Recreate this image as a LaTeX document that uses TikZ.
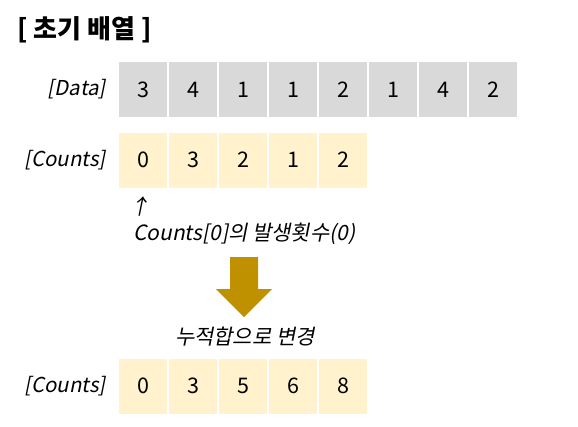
\documentclass[tikz,border=0pt]{standalone}
\usepackage{fontspec}
\setmainfont{Noto Sans CJK KR}
\newfontfamily\slantfont{Noto Sans CJK KR}[FakeSlant=0.2]
\usetikzlibrary{positioning}
\definecolor{datagray}{HTML}{D9D9D9}
\definecolor{cntyellow}{HTML}{FFF2CC}
\definecolor{arrowgold}{HTML}{BF9000}
\tikzset{
  every picture/.style={line join=round, line cap=round},
  cell/.style={minimum width=48pt, minimum height=55pt, inner sep=0pt, font=\fontsize{21.5}{21.5}\selectfont},
  datacell/.style={cell, fill=datagray},
  cntcell/.style={cell, fill=cntyellow},
  rowlabel/.style={anchor=east, inner sep=0pt, font=\slantfont\fontsize{20.5}{20.5}\selectfont},
  note/.style={inner sep=0pt, font=\slantfont\fontsize{21}{21}\selectfont},
}

\begin{document}
\begin{tikzpicture}[x=1pt,y=-1pt]
\useasboundingbox (0,0) rectangle (578,426);
\node[anchor=west,inner sep=0pt,font=\bfseries\fontsize{26}{26}\selectfont] (title) at (17,30) {[ 초기 배열 ]};
% data row
\node[rowlabel] (datalab) at (106,89) {[Data]};
\foreach \v [count=\i] in {3,4,1,1,2,1,4,2}
  \node[datacell] (d\i) at ({143+50*(\i-1)},89.5) {\v};
% counts row
\node[rowlabel] (cntlab) at (106,160) {[Counts]};
\foreach \v [count=\i] in {0,3,2,1,2}
  \node[cntcell] (c\i) at ({143+50*(\i-1)},160) {\v};
\node[note] (up) at (140,206) {↑};
\node[note,anchor=west] (occur) at (133,234) {Counts[0]의 발생횟수(0)};
% big arrow
\fill[arrowgold] (230,257) -- (258,257) -- (258,289) -- (272,289) -- (244,317) -- (216,289) -- (230,289) -- cycle;
\node[note] (change) at (245,337) {누적합으로 변경};
% cumulative row
\node[rowlabel] (sumlab) at (106,386) {[Counts]};
\foreach \v [count=\i] in {0,3,5,6,8}
  \node[cntcell] (s\i) at ({143+50*(\i-1)},386) {\v};
\end{tikzpicture}
\end{document}
